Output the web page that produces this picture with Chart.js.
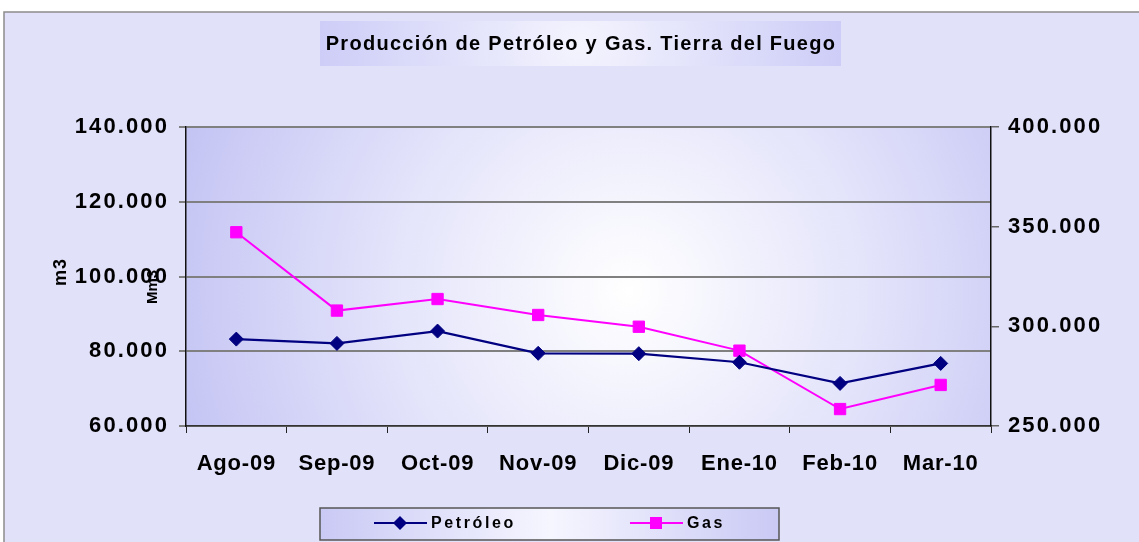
<!DOCTYPE html>
<html>
<head>
<meta charset="utf-8">
<script src="https://cdn.jsdelivr.net/npm/chart.js@4/dist/chart.umd.min.js"></script>
<style>
html,body{margin:0;padding:0;background:#fff;}
canvas{display:block;}
</style>
</head>
<body>
<canvas id="c" width="1139" height="542"></canvas>
<script>
const categories = ['Ago-09','Sep-09','Oct-09','Nov-09','Dic-09','Ene-10','Feb-10','Mar-10'];
const petroleo = [83250, 82100, 85400, 79450, 79350, 77050, 71400, 76750];
const gas = [347200, 307900, 313700, 305700, 299800, 287800, 258500, 270600];
const leftTicks = [60000, 140000, 20000];   // min, max, step
const rightTicks = [250000, 400000, 50000]; // min, max, step
const titleText = 'Producción de Petróleo y Gas. Tierra del Fuego';
const leftAxisTitle = 'm3';
const rightAxisTitle = 'Mm3';
const seriesNames = ['Petróleo', 'Gas'];

const W = 1139, H = 542;
const FONT = '"Liberation Sans", Arial, sans-serif';
const fmt = v => String(v).replace(/\B(?=(\d{3})+(?!\d))/g, '.');
const SPACING = { x: '0.8px', y: '2.1px', y1: '2.1px' };

const spacingPlugin = {
  id: 'spacing',
  afterUpdate(chart){
    Object.values(chart.scales).forEach(s => {
      if (s._wrappedLS) return;
      const orig = s.drawLabels.bind(s);
      s.drawLabels = function(ca){
        const ctx = chart.ctx;
        const prev = ctx.letterSpacing;
        ctx.letterSpacing = SPACING[s.id] || '0px';
        orig(ca);
        ctx.letterSpacing = prev;
      };
      s._wrappedLS = true;
    });
  }
};

const bgPlugin = {
  id: 'bg',
  beforeDraw(chart){
    const ctx = chart.ctx, a = chart.chartArea;
    ctx.save();
    ctx.letterSpacing = '0px';
    ctx.fillStyle = '#ffffff';
    ctx.fillRect(0, 0, W, H);
    ctx.fillStyle = '#e1e1f9';
    ctx.fillRect(4, 12, W - 4, H - 12);
    ctx.strokeStyle = '#8c8c8c';
    ctx.lineWidth = 1.5;
    ctx.beginPath();
    ctx.moveTo(4, H); ctx.lineTo(4, 12); ctx.lineTo(W, 12);
    ctx.stroke();
    // plot area gradient
    const cx = a.left + (a.right - a.left) * 0.55, cy = a.top + (a.bottom - a.top) * 0.55;
    const g = ctx.createRadialGradient(cx, cy, 0, cx, cy, 470);
    g.addColorStop(0, '#ffffff');
    g.addColorStop(0.5, '#e4e4fb');
    g.addColorStop(1, '#c4c4f4');
    ctx.fillStyle = g;
    ctx.fillRect(a.left, a.top, a.right - a.left, a.bottom - a.top);
    // title box
    const tg = ctx.createRadialGradient(580, 43, 0, 580, 43, 280);
    tg.addColorStop(0, '#f4f4fe');
    tg.addColorStop(1, '#cacaf7');
    ctx.fillStyle = tg;
    ctx.fillRect(320, 21, 521, 45);
    ctx.fillStyle = '#000';
    ctx.font = 'bold 20px ' + FONT;
    ctx.letterSpacing = '1.3px';
    ctx.textAlign = 'center';
    ctx.textBaseline = 'middle';
    ctx.fillText(titleText, 581, 44);
    ctx.restore();
  },
  afterDraw(chart){
    const ctx = chart.ctx;
    ctx.save();
    ctx.fillStyle = '#000';
    ctx.textAlign = 'center';
    ctx.textBaseline = 'middle';
    // axis titles
    ctx.letterSpacing = '1px';
    ctx.font = 'bold 18px ' + FONT;
    ctx.save(); ctx.translate(61, 272); ctx.rotate(-Math.PI/2); ctx.fillText(leftAxisTitle, 0, 0); ctx.restore();
    ctx.font = 'bold 15px ' + FONT;
    ctx.letterSpacing = '0px';
    ctx.save(); ctx.translate(153, 287); ctx.rotate(-Math.PI/2); ctx.fillText(rightAxisTitle, 0, 0); ctx.restore();
    // legend box
    const lg = ctx.createLinearGradient(320, 0, 780, 0);
    lg.addColorStop(0, '#c9c9f5');
    lg.addColorStop(0.5, '#f6f6ff');
    lg.addColorStop(1, '#c9c9f5');
    ctx.fillStyle = lg;
    ctx.fillRect(320, 508, 459, 32);
    ctx.strokeStyle = '#555';
    ctx.lineWidth = 1.5;
    ctx.strokeRect(320, 508, 459, 32);
    const ly = 523;
    const items = [
      {x0: 374, x1: 427, mx: 400, tx: 431, ds: chart.data.datasets[0]},
      {x0: 630, x1: 683, mx: 656, tx: 687, ds: chart.data.datasets[1]}
    ];
    items.forEach(it => {
      ctx.strokeStyle = it.ds.borderColor;
      ctx.lineWidth = 2;
      ctx.beginPath(); ctx.moveTo(it.x0, ly); ctx.lineTo(it.x1, ly); ctx.stroke();
      ctx.fillStyle = it.ds.backgroundColor;
      ctx.beginPath();
      if (it.ds.pointStyle === 'rect') {
        ctx.rect(it.mx - 6, ly - 6, 12, 12);
      } else {
        ctx.moveTo(it.mx, ly - 7); ctx.lineTo(it.mx + 7, ly); ctx.lineTo(it.mx, ly + 7); ctx.lineTo(it.mx - 7, ly);
        ctx.closePath();
      }
      ctx.fill();
      ctx.fillStyle = '#000';
      ctx.font = 'bold 16px ' + FONT;
      ctx.letterSpacing = '2.6px';
      ctx.textAlign = 'left';
      ctx.fillText(it.ds.label, it.tx, ly + 1);
    });
    ctx.restore();
  }
};

new Chart(document.getElementById('c'), {
  type: 'line',
  data: {
    labels: categories,
    datasets: [
      {
        label: seriesNames[0], data: petroleo, yAxisID: 'y',
        borderColor: '#000080', backgroundColor: '#000080', borderWidth: 2.2,
        pointStyle: 'rectRot', pointRadius: 7, pointBorderWidth: 1,
        pointBackgroundColor: '#000080', pointBorderColor: '#000080', tension: 0
      },
      {
        label: seriesNames[1], data: gas, yAxisID: 'y1',
        borderColor: '#ff00ff', backgroundColor: '#ff00ff', borderWidth: 2,
        pointStyle: 'rect', pointRadius: 8, pointBorderWidth: 1,
        pointBackgroundColor: '#ff00ff', pointBorderColor: '#ff00ff', tension: 0
      }
    ]
  },
  options: {
    responsive: false,
    animation: false,
    events: [],
    layout: { padding: { left: 0, right: 0, top: 127, bottom: 60 } },
    plugins: { legend: { display: false }, title: { display: false }, tooltip: { enabled: false } },
    scales: {
      x: {
        offset: true,
        grid: { offset: true, drawOnChartArea: false, tickLength: 7, color: '#222', lineWidth: 1 },
        border: { color: '#333', width: 1.5 },
        ticks: { color: '#000', font: { family: FONT, size: 22, weight: 'bold' }, padding: 18, maxRotation: 0, autoSkip: false },
        afterFit(s){ s.height = 56; }
      },
      y: {
        position: 'left',
        min: leftTicks[0], max: leftTicks[1],
        grid: { color: '#808080', lineWidth: 2, tickLength: 7 },
        border: { color: '#111', width: 1.5 },
        ticks: { stepSize: leftTicks[2], color: '#000', padding: 10, font: { family: FONT, size: 22, weight: 'bold' }, callback: v => fmt(v) },
        afterFit(s){ s.width = 186; }
      },
      y1: {
        position: 'right',
        min: rightTicks[0], max: rightTicks[1],
        grid: { drawOnChartArea: false, color: '#666', lineWidth: 1.5, tickLength: 8 },
        border: { color: '#111', width: 1.5 },
        ticks: { stepSize: rightTicks[2], color: '#000', padding: 9, font: { family: FONT, size: 22, weight: 'bold' }, callback: v => fmt(v) },
        afterFit(s){ s.width = W - 991; }
      }
    }
  },
  plugins: [spacingPlugin, bgPlugin]
});
</script>
</body>
</html>
